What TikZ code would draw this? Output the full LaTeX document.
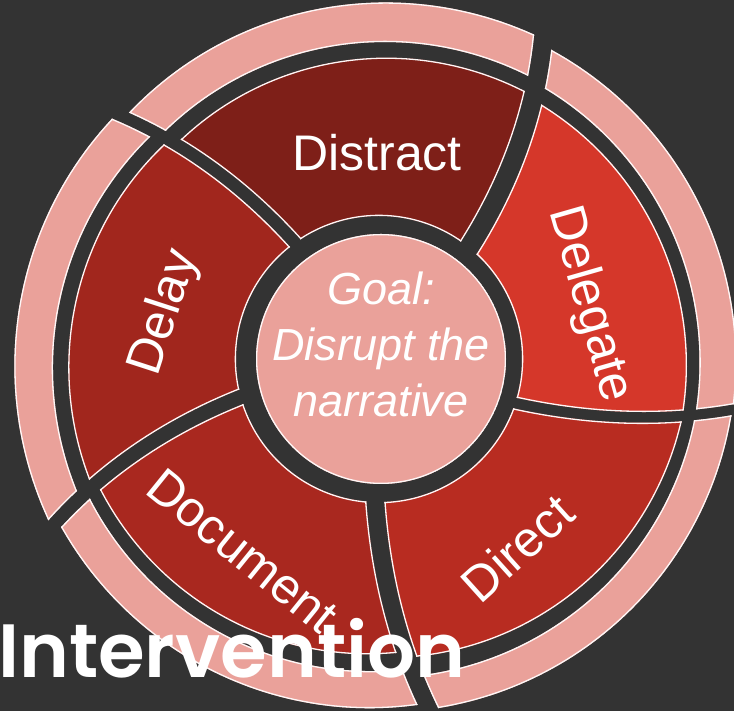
\documentclass[tikz,border=0pt]{standalone}
\usepackage{fontspec}
\setmainfont{Liberation Sans}
\IfFontExistsTF{Poppins SemiBold}
  {\newfontfamily\headfont{Poppins SemiBold}}
  {\newfontfamily\headfont{Poppins}[UprightFont=*-Bold]}
\definecolor{bgc}{HTML}{333333}
\definecolor{pinkc}{HTML}{EAA19A}
\definecolor{distractc}{HTML}{7E1F18}
\definecolor{delayc}{HTML}{A1261D}
\definecolor{documentc}{HTML}{A9281F}
\definecolor{directc}{HTML}{B82C21}
\definecolor{delegatec}{HTML}{D5372A}
\colorlet{rimcol}{white!92!pinkc}

% One ring piece: the region between two curved separator edges
% (#2 = clockwise edge, #3 = counter-clockwise edge, angles as functions of the radius \x)
% and between an outer radius #6 and an inner radius #7 (functions of the angle \x, over #4..#5).
\newcommand\segpiece[7]{%
  \begin{scope}
    \clip plot[domain=130:560,samples=50] ({#2}:\x) -- plot[domain=560:130,samples=50] ({#3}:\x) -- cycle;
    \clip plot[domain=#4:#5,samples=90] (\x:{#6}) -- plot[domain=#5:#4,samples=90] (\x:{#7}) -- cycle;
    \fill[#1] (-600,-600) rectangle (600,600);
    \draw[rim] plot[domain=#4:#5,samples=90] (\x:{#6}) -- plot[domain=#5:#4,samples=90] (\x:{#7}) -- cycle;
    \draw[rim] plot[domain=130:560,samples=50] ({#2}:\x) -- plot[domain=560:130,samples=50] ({#3}:\x) -- cycle;
  \end{scope}}

\begin{document}
\begin{tikzpicture}[x=1pt,y=1pt,
  declare function={
    tw(\u)=\u*(0.85+0.15*\u);
    sepa(\q)=51+12.5*tw((\q-142)/228);
    sepb(\q)=-18+10.5*tw((\q-142)/228);
    sepc(\q)=-91.5+10.5*tw((\q-142)/228);
    sepd(\q)=195.3+12*tw((\q-142)/228);
    sepe(\q)=125.8+11.8*tw((\q-142)/228);
  },
  rim/.style={draw=rimcol,line width=2.6pt},
  lab/.style={text=white,inner sep=0pt,font=\fontsize{50}{50}\selectfont,text height=36pt,text depth=0pt},
  goal/.style={text=white,align=center,inner sep=0pt,font=\fontsize{45}{56}\selectfont\itshape},
  title/.style={text=white,inner sep=0pt,anchor=base west,font=\headfont\fontsize{75.5}{75.5}\selectfont},
]
\useasboundingbox (0,0) rectangle (734,711);
\fill[bgc] (0,0) rectangle (734,711);
\clip (0,0) rectangle (734,711);

\begin{scope}[shift={(379,352)}]
  % inner ring of five actions
  \segpiece{delegatec}{sepb(\x)+315/\x}{sepa(\x)-573/\x}{-35}{80}{309-7*(\x+10)/67}{143}
  \segpiece{distractc}{sepa(\x)+573/\x}{sepe(\x)-372/\x}{35}{155}{305-9*(\x-62)/69}{143}
  \segpiece{delayc}{sepe(\x)+372/\x}{sepd(\x)-430/\x}{110}{225}{304+10*(\x-135)/67}{143}
  \segpiece{documentc}{sepd(\x)+430/\x}{sepc(\x)+360-516/\x}{180}{295}{308-14*(\x-206)/70}{143}
  \segpiece{directc}{sepc(\x)+516/\x}{sepb(\x)-315/\x}{-105}{5}{300+9*(\x+84)/71}{143}
  % outer band
  \segpiece{pinkc}{sepb(\x)+315/\x}{sepa(\x)-573/\x}{-35}{80}{358-4*(\x+9)/70}{321-4*(\x+9)/70}
  \segpiece{pinkc}{sepa(\x)+573/\x}{sepe(\x)-372/\x}{35}{155}{360-9*(\x-61)/75}{320-8*(\x-61)/75}
  \segpiece{pinkc}{sepe(\x)+372/\x}{sepd(\x)-430/\x}{110}{225}{359+9*(\x-136)/70}{319+11*(\x-136)/70}
  \segpiece{pinkc}{sepd(\x)+430/\x}{sepc(\x)+360-516/\x}{180}{295}{360-12*(\x-206)/71}{321-10*(\x-206)/71}
  \segpiece{pinkc}{sepc(\x)+516/\x}{sepb(\x)-315/\x}{-105}{5}{354+3*(\x+83)/74}{319+2*(\x+83)/74}
  % centre disc
  \begin{scope}
    \clip (2,0) circle (125);
    \fill[pinkc] (2,0) circle (125);
    \draw[rim] (2,0) circle (125);
  \end{scope}
  % labels
  \node[lab] (distract) at (-2,206) {Distract};
  \node[lab,rotate=-74] (delegate) at (215,56) {Delegate};
  \node[lab,rotate=72] (delay) at (-219,48) {Delay};
  \node[lab,rotate=-39] (document) at (-136,-191) {Document};
  \node[lab,rotate=42] (direct) at (138,-189) {Direct};
  \node[goal] (goalnode) at (2,15) {Goal:\\Disrupt the\\narrative};
\end{scope}

\node[title] (heading) at (-2,33) {Intervention};
\end{tikzpicture}
\end{document}
